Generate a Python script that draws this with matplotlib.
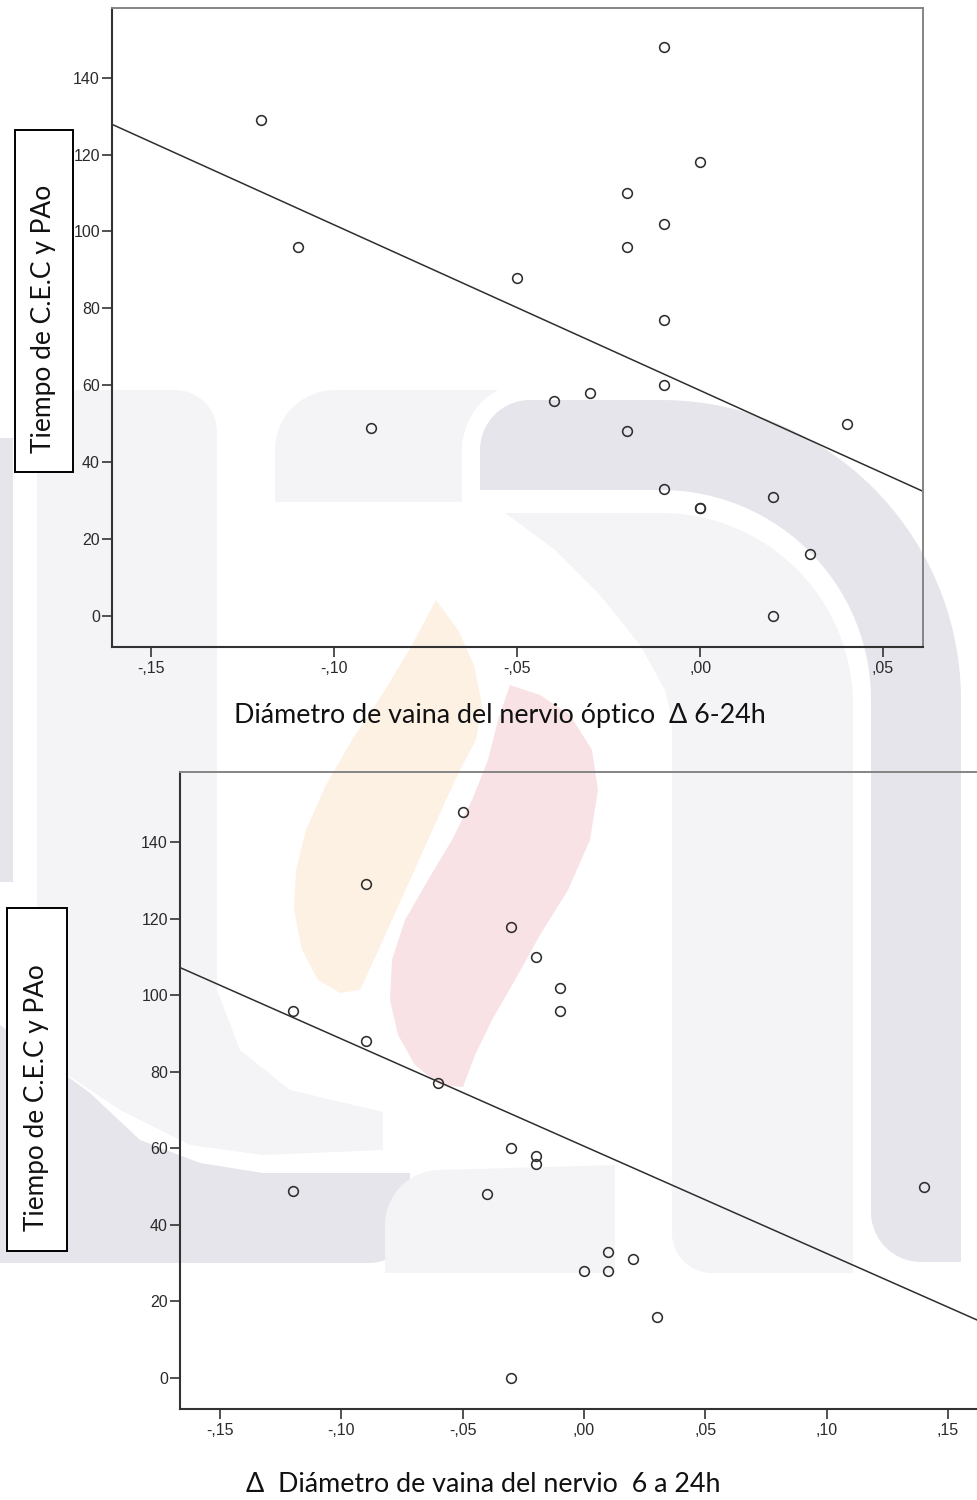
import numpy as np
import matplotlib
matplotlib.use("Agg")
import matplotlib.pyplot as plt
from matplotlib.patches import Polygon, Rectangle
from matplotlib.ticker import FixedLocator, FuncFormatter

# ---------------------------------------------------------------- data
# Upper panel: change of optic nerve sheath diameter (6-24 h) vs CPB + aortic clamp time
delta_vaina_top = [-0.12, -0.11, -0.09, -0.01, 0.00, -0.02, -0.01, -0.02, -0.05, -0.01,
                   -0.04, -0.03, -0.01, -0.02, 0.04, -0.01, 0.00, 0.00, 0.02, 0.03, 0.02]
tiempo_top = [129, 96, 49, 148, 118, 110, 102, 96, 88, 77,
              56, 58, 60, 48, 50, 33, 28, 28, 31, 16, 0]

# Lower panel: change of sheath diameter 6 to 24 h vs CPB + aortic clamp time
delta_vaina_bottom = [-0.05, -0.09, -0.03, -0.02, -0.01, -0.01, -0.12, -0.09, -0.06, -0.03,
                      -0.02, -0.02, -0.12, -0.04, 0.14, 0.01, 0.02, 0.00, 0.01, 0.03, -0.03]
tiempo_bottom = [148, 129, 118, 110, 102, 96, 96, 88, 77, 60,
                 58, 56, 49, 48, 50, 33, 31, 28, 28, 16, 0]

x_ticks_top = [-0.15, -0.10, -0.05, 0.00, 0.05]
x_ticks_bottom = [-0.15, -0.10, -0.05, 0.00, 0.05, 0.10, 0.15]
y_ticks = [0, 20, 40, 60, 80, 100, 120, 140]

ylabel_text = "Tiempo de C.E.C y PAo"
xlabel_top = "Diámetro de vaina del nervio óptico  Δ 6-24h"
xlabel_bottom = "Δ  Diámetro de vaina del nervio  6 a 24h"

# ---------------------------------------------------------------- figure
W, H, DPI = 977, 1500, 100
fig = plt.figure(figsize=(W / DPI, H / DPI), dpi=DPI)
fig.patch.set_facecolor("white")


def px_rect(x0, y0, x1, y1):
    """Axes rectangle from pixel box (origin top-left)."""
    return [x0 / W, 1 - y1 / H, (x1 - x0) / W, (y1 - y0) / H]


# page background layer (pixel coordinates, y downwards)
bg = fig.add_axes([0, 0, 1, 1], zorder=-1)
bg.set_xlim(0, W)
bg.set_ylim(H, 0)
bg.axis("off")


def arc(cx, cy, r, a0, a1, n=40):
    t = np.radians(np.linspace(a0, a1, n))
    return np.column_stack([cx + r * np.cos(t), cy - r * np.sin(t)])


def shape(parts, color):
    pts = np.vstack([np.asarray(p, dtype=float) for p in parts])
    bg.add_patch(Polygon(pts, closed=True, facecolor=color, edgecolor="none", zorder=1))


DARK = "#e5e5eb"
LIGHT = "#f4f4f7"
ORANGE = "#fdf1e4"
PINK = "#f9e2e5"

# faint institutional watermark behind the charts
shape([[(0, 438), (13, 438), (13, 882), (0, 882)]], DARK)
shape([[(37, 1040), (37, 430)], arc(82, 435, 45, 180, 90, 15), [(175, 390)],
       arc(175, 432, 42, 90, 0, 15),
       [(217, 990), (240, 1050), (290, 1090), (383, 1112), (383, 1150), (263, 1155),
        (190, 1145), (120, 1110), (60, 1070)]], LIGHT)
shape([[(0, 1025), (45, 1060), (90, 1093), (140, 1140), (200, 1163), (263, 1173), (410, 1173),
        (410, 1225)], arc(370, 1223, 40, 0, -90, 15), [(0, 1263)]], DARK)
shape([[(275, 502)], arc(335, 450, 60, 180, 90, 20), [(498, 390)],
       arc(530, 450, 68, 118, 180, 20), [(462, 502)]], LIGHT)
shape([[(480, 490)], arc(530, 450, 50, 180, 90, 20), arc(661, 700, 300, 90, 0, 60),
       [(961, 1262), (921, 1262)], arc(921, 1212, 50, 270, 180, 20),
       arc(661, 700, 210, 0, 90, 60)], DARK)
shape([[(505, 513), (661, 513)], arc(661, 705, 192, 90, 0, 50), [(853, 1273), (712, 1273)],
       arc(712, 1233, 40, 270, 180, 15),
       [(672, 720), (665, 690), (640, 645), (600, 595), (555, 550), (520, 524)]], LIGHT)
shape([[(385, 1273), (385, 1225)], arc(440, 1225, 55, 180, 90, 20), [(615, 1165), (615, 1273)]],
      LIGHT)
shape([[(436, 600), (458, 630), (474, 665), (482, 705), (476, 740), (460, 770), (446, 800),
        (428, 840), (410, 880), (392, 920), (374, 960), (360, 990), (340, 993), (318, 980),
        (302, 950), (294, 910), (296, 870), (306, 830), (326, 785), (352, 740), (385, 690),
        (412, 645)]], ORANGE)
shape([[(510, 685), (540, 695), (570, 715), (592, 750), (598, 790), (590, 840), (568, 890),
        (540, 935), (515, 980), (492, 1020), (475, 1055), (463, 1087), (440, 1085),
        (415, 1065), (398, 1035), (390, 1000), (392, 960), (405, 920), (428, 880),
        (452, 840), (472, 800), (488, 760), (498, 720)]], PINK)

# framed y-axis title boxes
bg.add_patch(Rectangle((15, 130), 58, 342, facecolor="white", edgecolor="black", lw=1.4, zorder=3))
bg.add_patch(Rectangle((7, 908), 60, 343, facecolor="white", edgecolor="black", lw=1.4, zorder=3))


def comma_fmt(v, pos):
    return f"{v:.2f}".replace("0.", ",", 1)


def draw_panel(ax, x, y, xlim, ylim, xticks):
    ax.set_facecolor("none")
    ax.plot(x, y, linestyle="none", marker="o", ms=7, mfc="none", mec="#2e2e2e",
            mew=1.15, zorder=3)
    slope, intercept = np.polyfit(x, y, 1)
    xs = np.array(xlim)
    ax.plot(xs, intercept + slope * xs, color="#2e2e2e", lw=1.1, zorder=2)
    ax.set_xlim(xlim)
    ax.set_ylim(ylim)
    ax.xaxis.set_major_locator(FixedLocator(xticks))
    ax.yaxis.set_major_locator(FixedLocator(y_ticks))
    ax.xaxis.set_major_formatter(FuncFormatter(comma_fmt))
    ax.yaxis.set_major_formatter(FuncFormatter(lambda v, p: f"{v:.0f}"))
    ax.tick_params(direction="out", length=7.2, width=1.2, color="#333333",
                   labelsize=11.5, labelcolor="#2a2a2a", labelfontfamily="Liberation Sans")
    ax.tick_params(axis="x", pad=3)
    ax.tick_params(axis="y", pad=1.5)
    for side in ("left", "bottom"):
        ax.spines[side].set_color("#333333")
        ax.spines[side].set_linewidth(1.5)
    for side in ("top", "right"):
        ax.spines[side].set_color("#858585")
        ax.spines[side].set_linewidth(1.4)


ax_top = fig.add_axes(px_rect(112, 8, 923, 647), zorder=1)
draw_panel(ax_top, delta_vaina_top, tiempo_top, (-0.1607, 0.0609), (-8.06, 158.1), x_ticks_top)

ax_bot = fig.add_axes(px_rect(180, 772, 996.6, 1409), zorder=1)
draw_panel(ax_bot, delta_vaina_bottom, tiempo_bottom, (-0.1665, 0.17), (-8.1, 158.4),
           x_ticks_bottom)

# axis titles (document text)
label_font = ["Lato", "DejaVu Sans"]
t_y1 = fig.text(44 / W, 1 - 318.5 / H, ylabel_text, rotation=90, ha="center", va="center",
                fontsize=18, family=label_font, color="#111111")
t_y2 = fig.text(37 / W, 1 - 1097.5 / H, ylabel_text, rotation=90, ha="center", va="center",
                fontsize=18, family=label_font, color="#111111")
t_x1 = fig.text(499.5 / W, 1 - 723 / H, xlabel_top, ha="center", va="baseline",
                fontsize=18, family=label_font, color="#111111")
t_x2 = fig.text(483.5 / W, 1 - 1492 / H, xlabel_bottom, ha="center", va="baseline",
                fontsize=18, family=label_font, color="#111111")

fig.canvas.draw()
renderer = fig.canvas.get_renderer()
for t, target, vertical in ((t_y1, 267, True), (t_y2, 265, True),
                            (t_x1, 531, False), (t_x2, 473, False)):
    bb = t.get_window_extent(renderer)
    size = bb.height if vertical else bb.width
    t.set_fontsize(t.get_fontsize() * target / size)

fig.savefig("out.png", dpi=DPI)
